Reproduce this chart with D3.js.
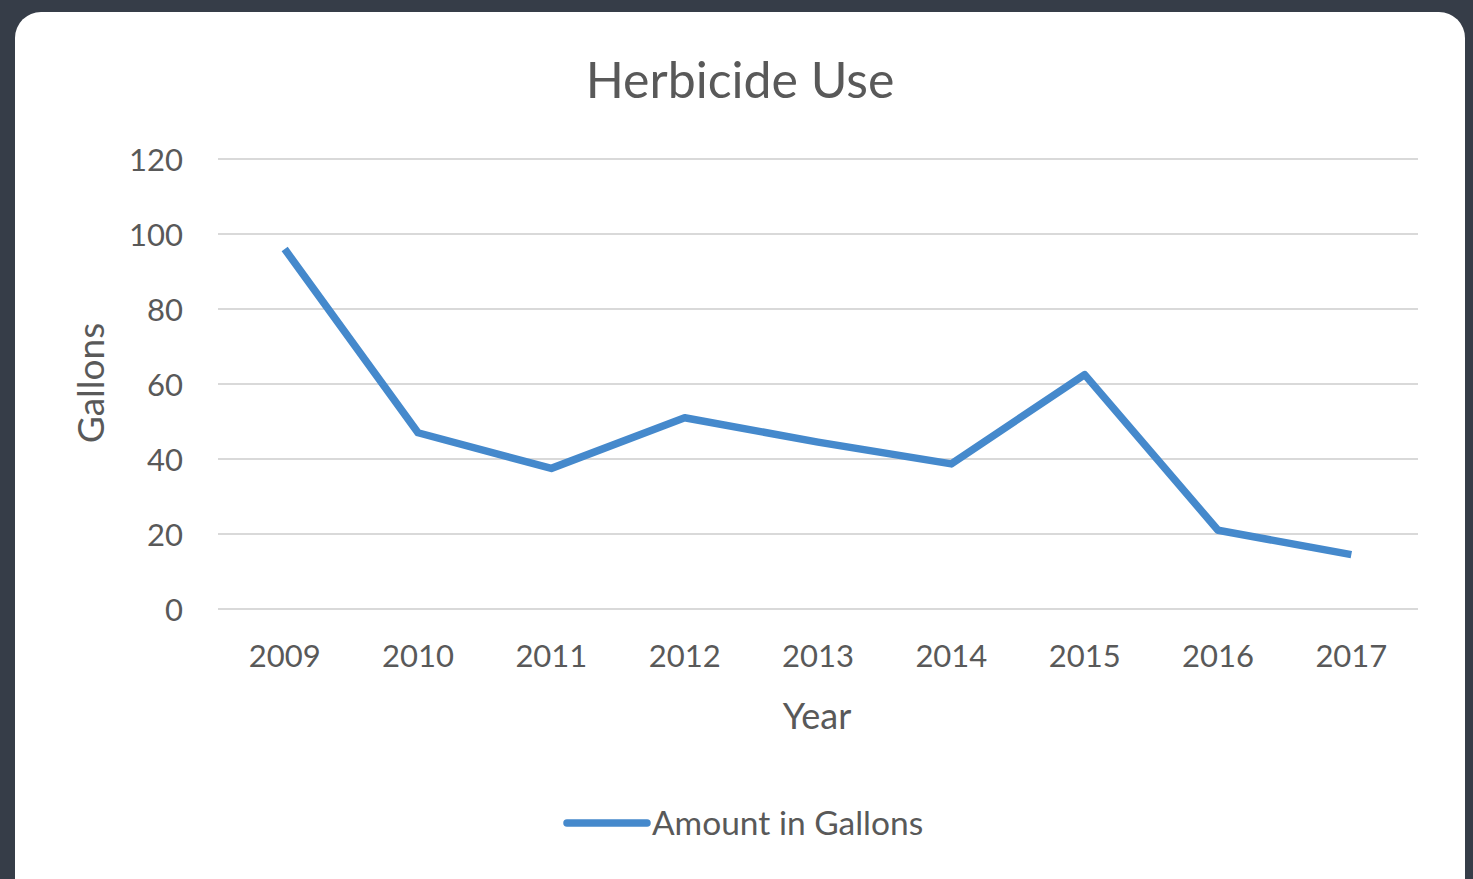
<!DOCTYPE html>
<html>
<head>
<meta charset="utf-8">
<script src="https://cdn.jsdelivr.net/npm/d3@7"></script>
<style>
  html, body { margin: 0; padding: 0; background: #363d48; }
  svg { display: block; }
</style>
</head>
<body>
<div></div>
<script>
const years = ['2009', '2010', '2011', '2012', '2013', '2014', '2015', '2016', '2017'];
const gallons = [96, 47, 37.5, 51, 44.5, 38.7, 62.5, 21, 14.5];
const yTicks = [0, 20, 40, 60, 80, 100, 120];

const w = 1473;
const h = 879;
const font = 'Lato, "Open Sans", sans-serif';
const textColor = '#595959';

const svg = d3
  .select('body')
  .select('div')
  .append('svg')
  .attr('width', w)
  .attr('height', h);

// frame
svg.append('rect').attr('width', w).attr('height', h).attr('fill', '#363d48');
svg
  .append('rect')
  .attr('x', 15)
  .attr('y', 12)
  .attr('width', 1450)
  .attr('height', 900)
  .attr('rx', 26)
  .attr('fill', '#ffffff');

const x = d3.scaleBand().domain(years).range([218, 1418]);
const y = d3.scaleLinear().domain([0, 120]).range([609, 159]);

// gridlines
svg
  .append('g')
  .selectAll('line')
  .data(yTicks)
  .enter()
  .append('line')
  .attr('x1', 218)
  .attr('x2', 1418)
  .attr('y1', (d) => y(d))
  .attr('y2', (d) => y(d))
  .style('stroke', '#d9d9d9')
  .style('stroke-width', 2);

// y axis labels
const yAxis = d3.axisLeft(y).tickValues(yTicks).tickSize(0).tickPadding(0);
const gy = svg.append('g').attr('transform', 'translate(183,0)').call(yAxis);
gy.select('.domain').remove();
gy.selectAll('text')
  .attr('dy', '0.37em')
  .style('font-family', font)
  .style('font-size', '31px')
  .style('fill', textColor);

// x axis labels
const xAxis = d3.axisBottom(x).tickSize(0).tickPadding(0);
const gx = svg.append('g').attr('transform', 'translate(0,645)').call(xAxis);
gx.select('.domain').remove();
gx.selectAll('text')
  .style('font-family', font)
  .style('font-size', '31px')
  .style('fill', textColor);

// line
const line = d3
  .line()
  .x((d, i) => x(years[i]) + x.bandwidth() / 2)
  .y((d) => y(d));

svg
  .append('path')
  .datum(gallons)
  .attr('d', line)
  .style('fill', 'none')
  .style('stroke', '#4589cc')
  .style('stroke-width', 7.5)
  .style('stroke-linejoin', 'round');

// title
svg
  .append('text')
  .attr('x', 740)
  .attr('y', 98)
  .attr('text-anchor', 'middle')
  .style('font-family', font)
  .style('font-size', '50px')
  .style('fill', textColor)
  .text('Herbicide Use');

// axis titles
svg
  .append('text')
  .attr('x', 817)
  .attr('y', 729)
  .attr('text-anchor', 'middle')
  .style('font-family', font)
  .style('font-size', '36px')
  .style('fill', textColor)
  .text('Year');

svg
  .append('text')
  .attr('transform', 'translate(104,383) rotate(-90)')
  .attr('text-anchor', 'middle')
  .style('font-family', font)
  .style('font-size', '37px')
  .style('fill', textColor)
  .text('Gallons');

// legend
svg
  .append('line')
  .attr('x1', 567)
  .attr('x2', 647)
  .attr('y1', 823)
  .attr('y2', 823)
  .style('stroke', '#4589cc')
  .style('stroke-width', 7.5)
  .style('stroke-linecap', 'round');

svg
  .append('text')
  .attr('x', 652)
  .attr('y', 835)
  .style('font-family', font)
  .style('font-size', '33.5px')
  .style('fill', textColor)
  .text('Amount in Gallons');
</script>
</body>
</html>
